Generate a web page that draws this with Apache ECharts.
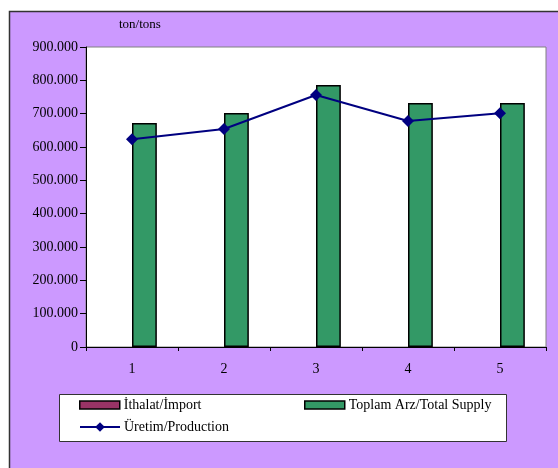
<!DOCTYPE html>
<html>
<head>
<meta charset="utf-8">
<script src="https://cdn.jsdelivr.net/npm/echarts@6/dist/echarts.min.js"></script>
<style>
  html, body { margin: 0; padding: 0; background: #fff; }
  #chart { width: 558px; height: 468px; }
</style>
</head>
<body>
<div id="chart"></div>
<script>
var categories = ['1', '2', '3', '4', '5']
var importValues = [0, 0, 0, 0, 0]
var totalSupply = [672000, 702000, 786000, 732000, 732000]
var production = [623000, 654000, 756000, 678000, 701000]
var yTicks = { min: 0, max: 900000, interval: 100000 }

var serif = '"Liberation Serif", "DejaVu Serif", serif'

function fmt(v) {
  // Turkish style thousands separator
  return String(v).replace(/\B(?=(\d{3})+(?!\d))/g, '.')
}

var legendText = { fontFamily: serif, fontSize: 14, color: '#000', padding: [0, 0, 0, -1] }

var myChart = echarts.init(document.getElementById('chart'))
myChart.setOption({
  backgroundColor: '#ffffff',
  animation: false,
  graphic: [
    {
      type: 'rect',
      z: -10,
      shape: { x: 9.5, y: 11.5, width: 600, height: 500 },
      style: { fill: '#CC99FF', stroke: '#333', lineWidth: 1.5 }
    },
    {
      type: 'rect',
      z: -5,
      shape: { x: 59.5, y: 394.5, width: 447, height: 47 },
      style: { fill: '#ffffff', stroke: '#333', lineWidth: 1 }
    },
    {
      type: 'text',
      left: 119,
      top: 18,
      style: { text: 'ton/tons', font: '13px ' + serif, fill: '#000' }
    }
  ],
  grid: {
    left: 86,
    top: 47,
    right: 12,
    bottom: 121,
    show: true,
    backgroundColor: '#ffffff',
    borderColor: '#808080',
    borderWidth: 1
  },
  legend: [
    {
      data: ['İthalat/İmport'],
      left: 79,
      top: 398,
      padding: 0,
      icon: 'rect',
      itemWidth: 40,
      itemHeight: 8,
      itemStyle: { color: '#993366', borderColor: '#000', borderWidth: 1.5 },
      textStyle: legendText
    },
    {
      data: ['Toplam Arz/Total Supply'],
      left: 304,
      top: 398,
      padding: 0,
      icon: 'rect',
      itemWidth: 40,
      itemHeight: 8,
      itemStyle: { color: '#339966', borderColor: '#000', borderWidth: 1.5 },
      textStyle: legendText
    },
    {
      data: ['Üretim/Production'],
      left: 79,
      top: 420,
      padding: 0,
      itemWidth: 40,
      itemHeight: 12,
      textStyle: legendText
    }
  ],
  xAxis: {
    type: 'category',
    data: categories,
    boundaryGap: true,
    axisLine: { lineStyle: { color: '#000', width: 1 } },
    axisTick: { show: true, length: 4, lineStyle: { color: '#000' } },
    axisLabel: { fontFamily: serif, fontSize: 14, color: '#000', margin: 15 },
    splitLine: { show: false }
  },
  yAxis: {
    type: 'value',
    min: yTicks.min,
    max: yTicks.max,
    interval: yTicks.interval,
    axisLine: { show: true, lineStyle: { color: '#000', width: 1 } },
    axisTick: { show: true, length: 6, lineStyle: { color: '#000' } },
    axisLabel: {
      fontFamily: serif,
      fontSize: 14,
      color: '#000',
      margin: 8,
      formatter: function(v) { return fmt(v) }
    },
    splitLine: { show: false }
  },
  series: [
    {
      name: 'İthalat/İmport',
      type: 'bar',
      data: importValues,
      barGap: '0%',
      barCategoryGap: '46%',
      itemStyle: { color: '#993366', borderWidth: 0 }
    },
    {
      name: 'Toplam Arz/Total Supply',
      type: 'bar',
      data: totalSupply,
      barGap: '0%',
      barCategoryGap: '46%',
      itemStyle: { color: '#339966', borderColor: '#000', borderWidth: 1.5 }
    },
    {
      name: 'Üretim/Production',
      type: 'line',
      data: production,
      symbol: 'diamond',
      symbolSize: 12,
      lineStyle: { color: '#000080', width: 2 },
      itemStyle: { color: '#000080' }
    }
  ]
})
</script>
</body>
</html>
